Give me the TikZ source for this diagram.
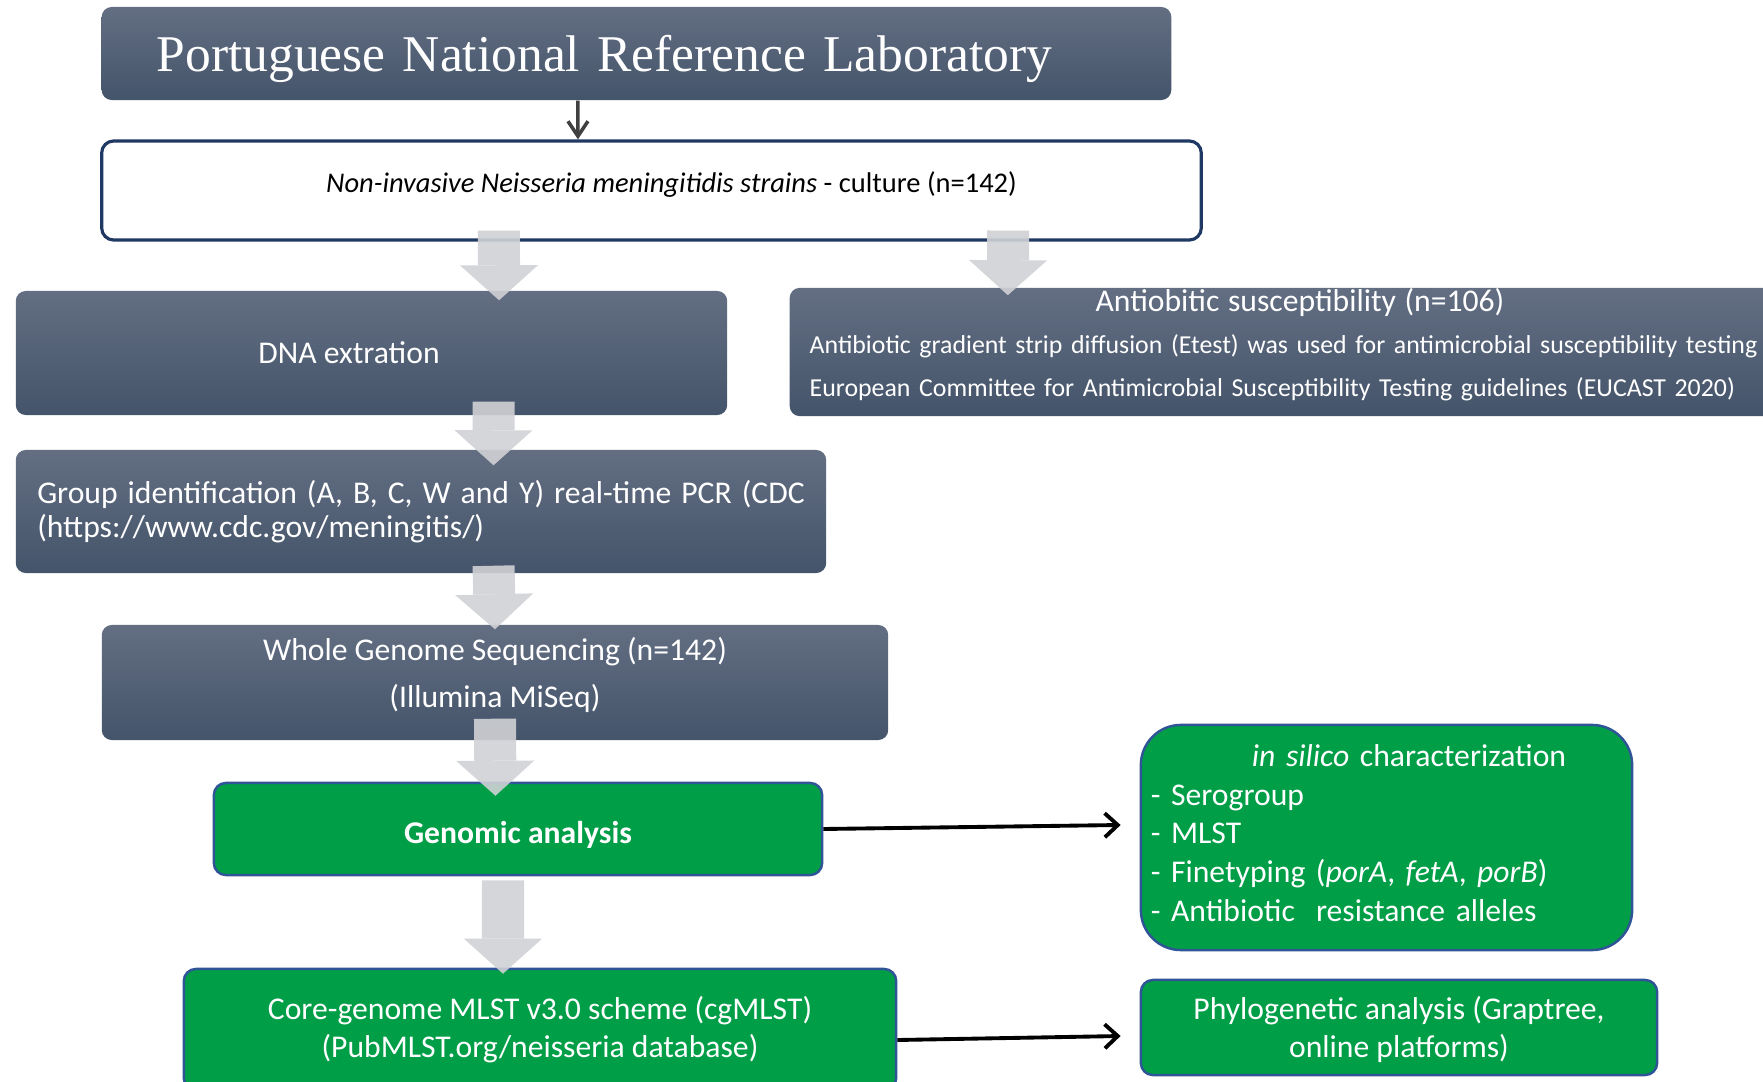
\documentclass[tikz,border=0pt]{standalone}
\usepackage{fontspec}
\setmainfont{Carlito}
\newfontfamily\titlefont{Liberation Serif}
\usetikzlibrary{arrows.meta}
\definecolor{slatetop}{HTML}{636E82}
\definecolor{slatebot}{HTML}{44546A}
\definecolor{leafgreen}{HTML}{009E47}
\definecolor{greenrim}{HTML}{2F5597}
\definecolor{navyrim}{HTML}{1F3864}
\definecolor{palegray}{HTML}{D0D1D5}
\definecolor{darkline}{HTML}{404040}
\begin{document}
\begin{tikzpicture}[x=0.01cm, y=-0.01cm,
    slatebox/.style={rounded corners=0.1cm, top color=slatetop, bottom color=slatebot,
      text=white, inner sep=0pt, align=center, font=\fontsize{9}{10.8}\selectfont},
    greenbox/.style={rounded corners=0.12cm, fill=leafgreen, draw=greenrim, line width=0.7pt,
      text=white, inner sep=0pt, align=center, font=\fontsize{9}{10.8}\selectfont},
    blockarrow/.style={draw=palegray, opacity=0.9, line width=0.42cm,
      -{Triangle[length=0.35cm, width=0.78cm, line width=0pt]}},
    linkarrow/.style={line width=1.1pt, -{Straight Barb[length=0.13cm, width=0.24cm]}}]
  \useasboundingbox (0,0) rectangle (1763,1082);

  \node[slatebox, minimum width=10.69cm, minimum height=0.93cm, text width=9.59cm,
    inner xsep=0.55cm, align=left, text height=0.475cm, text depth=0.115cm,
    font=\titlefont\fontsize{14.65}{16}\selectfont]
    (title) at (636.5,53.5) {Portuguese National Reference Laboratory};
  \node[draw=navyrim, line width=0.9pt, fill=white, rounded corners=0.12cm, inner sep=0pt,
    minimum width=10.99cm, minimum height=0.99cm, text depth=0.16cm, font=\fontsize{8.1}{10}\selectfont]
    (input) at (651.5,190.5) {\hspace*{0.4cm}\textit{Non-invasive Neisseria meningitidis strains} - culture (n=142)};
  \node[slatebox, minimum width=7.11cm, minimum height=1.24cm]
    (dna) at (371.5,353) {\hspace*{-0.45cm}DNA extration};
  \node[slatebox, minimum width=10.20cm, minimum height=1.28cm, text width=9.8cm,
    inner xsep=0.2cm, align=left, text depth=1.05cm, font=\fontsize{7.35}{12.2}\selectfont]
    (ab) at (1300,352) {\makebox[\linewidth]{\fontsize{9}{10.8}\selectfont Antiobitic susceptibility (n=106)}\\
      Antibiotic gradient strip diffusion (Etest) was used for antimicrobial susceptibility testing\\
      European Committee for Antimicrobial Susceptibility Testing guidelines (EUCAST 2020)};
  \node[slatebox, minimum width=8.10cm, minimum height=1.23cm, text width=7.67cm,
    inner xsep=0.215cm, align=justify, font=\fontsize{9}{9.6}\selectfont]
    (group) at (421,511.5) {Group identification (A, B, C, W and Y) real-time PCR (CDC (https://www.cdc.gov/meningitis/)};
  \node[slatebox, minimum width=7.86cm, minimum height=1.15cm, text depth=0.2cm,
    font=\fontsize{9}{13.4}\selectfont]
    (wgs) at (495,682.5) {Whole Genome Sequencing (n=142)\\(Illumina MiSeq)};
  \node[greenbox, minimum width=6.08cm, minimum height=0.92cm, text height=0.33cm,
    font=\bfseries\fontsize{9}{10.8}\selectfont]
    (genomic) at (518,829) {Genomic analysis};
  \node[greenbox, minimum width=7.12cm, minimum height=1.21cm]
    (core) at (540,1029.5) {Core-genome MLST v3.0 scheme (cgMLST)\\(PubMLST.org/neisseria database)};
  \node[greenbox, rounded corners=0.4cm, minimum width=4.91cm, minimum height=2.25cm,
    text width=4.71cm, inner xsep=0.1cm, align=left, text depth=1.64cm,
    font=\fontsize{9}{11}\selectfont]
    (silico) at (1386.5,837.5) {\makebox[\linewidth]{\hspace*{0.45cm}\textit{in silico} characterization}\\
      - Serogroup\\- MLST\\- Finetyping (\textit{porA}, \textit{fetA}, \textit{porB})\\- Antibiotic\ \ resistance alleles};
  \node[greenbox, minimum width=5.16cm, minimum height=0.95cm, text depth=0.01cm]
    (phylo) at (1399,1027.5) {Phylogenetic analysis (Graptree,\\online platforms)};

  \draw[darkline, line width=1pt, -{Straight Barb[length=0.15cm, width=0.2cm]}]
    ([xshift=-0.585cm]title.south) -- ([xshift=-0.735cm]input.north);
  \draw[blockarrow] ([xshift=-1.525cm, yshift=0.11cm]input.south) -- ([xshift=1.275cm, yshift=-0.10cm]dna.north);
  \draw[blockarrow] ([xshift=3.565cm, yshift=0.11cm]input.south) -- ([xshift=-2.92cm, yshift=-0.08cm]ab.north);
  \draw[blockarrow] ([xshift=1.22cm, yshift=0.14cm]dna.south) -- ([xshift=0.725cm, yshift=-0.16cm]group.north);
  \draw[blockarrow] ([xshift=0.725cm, yshift=0.08cm]group.south) -- ([yshift=-0.05cm]wgs.north);
  \draw[blockarrow] ([yshift=0.22cm]wgs.south) -- ([xshift=-0.225cm, yshift=-0.14cm]genomic.north);
  \draw[blockarrow] ([xshift=-0.15cm, yshift=-0.04cm]genomic.south) -- ([xshift=-0.37cm, yshift=-0.06cm]core.north);
  \draw[linkarrow] (genomic.east) -- ([xshift=-0.19cm, yshift=0.125cm]silico.west);
  \draw[linkarrow] ([yshift=-0.105cm]core.east) -- ([xshift=-0.19cm, yshift=-0.085cm]phylo.west);
\end{tikzpicture}
\end{document}
